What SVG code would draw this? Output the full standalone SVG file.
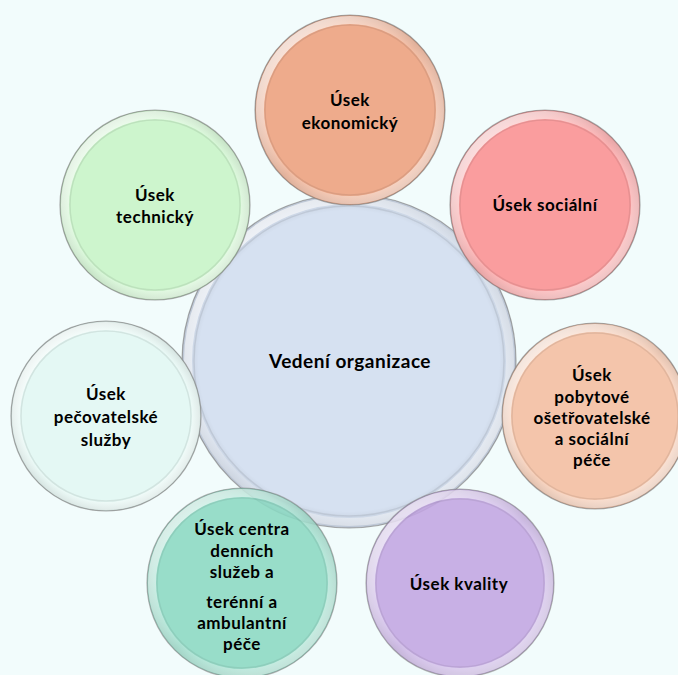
<svg xmlns="http://www.w3.org/2000/svg" width="678" height="675" viewBox="0 0 678 675">
<defs>
<linearGradient id="rim" x1="0" y1="0" x2="1" y2="1">
<stop offset="0" stop-color="#ffffff" stop-opacity="0.85"/>
<stop offset="0.5" stop-color="#ffffff" stop-opacity="0.22"/>
<stop offset="1" stop-color="#ffffff" stop-opacity="0.6"/>
</linearGradient>
<radialGradient id="shade" cx="0.5" cy="0.5" r="0.5">
<stop offset="0.9" stop-color="#000" stop-opacity="0"/>
<stop offset="1" stop-color="#000" stop-opacity="0.12"/>
</radialGradient>
<style>
.edge{stroke:#8a8a8a;stroke-opacity:0.7;stroke-width:1.2}
.rim{fill:none;stroke:url(#rim);stroke-width:8}
.bev{fill:none;stroke:#000;stroke-opacity:0.08;stroke-width:1.5}
.sh{fill:url(#shade)}
text{font-family:Lato,"Open Sans","DejaVu Sans",sans-serif;font-weight:bold;font-size:17px;letter-spacing:0.5px;fill:#000;text-anchor:middle;dominant-baseline:central}
.big{font-size:19px}
</style>
</defs>
<rect width="678" height="675" fill="#f2fcfc"/>
<g id="connectors"/>
<g id="center">
<circle cx="349" cy="361" r="167" fill="#d6e1f1" class="edge"/>
<circle cx="349" cy="361" r="167" class="sh"/>
<circle cx="349" cy="361" r="161" class="rim" stroke-width="10"/>
<circle cx="349" cy="361" r="155" class="bev"/>
<text x="350" y="360" class="big">Vedení organizace</text>
</g>
<g id="ekonomicky">
<circle cx="350" cy="110" r="95" fill="#eeab8c" class="edge"/>
<circle cx="350" cy="110" r="95" class="sh"/>
<circle cx="350" cy="110" r="90" class="rim"/>
<circle cx="350" cy="110" r="85" class="bev"/>
<text x="350" y="99">Úsek</text>
<text x="350" y="122">ekonomický</text>
</g>
<g id="socialni">
<circle cx="545" cy="205" r="95" fill="#fa9d9e" class="edge"/>
<circle cx="545" cy="205" r="95" class="sh"/>
<circle cx="545" cy="205" r="90" class="rim"/>
<circle cx="545" cy="205" r="85" class="bev"/>
<text x="545" y="204">Úsek sociální</text>
</g>
<g id="technicky">
<circle cx="155" cy="205" r="95" fill="#cdf5cd" class="edge"/>
<circle cx="155" cy="205" r="95" class="sh"/>
<circle cx="155" cy="205" r="90" class="rim"/>
<circle cx="155" cy="205" r="85" class="bev"/>
<text x="155" y="194">Úsek</text>
<text x="155" y="216">technický</text>
</g>
<g id="pecovatelske">
<circle cx="106" cy="416" r="95" fill="#e4f8f4" class="edge"/>
<circle cx="106" cy="416" r="95" class="sh"/>
<circle cx="106" cy="416" r="90" class="rim"/>
<circle cx="106" cy="416" r="85" class="bev"/>
<text x="106" y="393">Úsek</text>
<text x="106" y="416">pečovatelské</text>
<text x="106" y="439">služby</text>
</g>
<g id="pobytove">
<circle cx="595" cy="416" r="93" fill="#f4c5ab" class="edge"/>
<circle cx="595" cy="416" r="93" class="sh"/>
<circle cx="595" cy="416" r="88" class="rim"/>
<circle cx="595" cy="416" r="83" class="bev"/>
<text x="592" y="374">Úsek</text>
<text x="592" y="396">pobytové</text>
<text x="592" y="417">ošetřovatelské</text>
<text x="592" y="438">a sociální</text>
<text x="592" y="459">péče</text>
</g>
<g id="centra">
<g opacity="0.88">
<circle cx="242" cy="583" r="95" fill="#8cd9c3" class="edge"/>
<circle cx="242" cy="583" r="95" class="sh"/>
<circle cx="242" cy="583" r="90" class="rim"/>
<circle cx="242" cy="583" r="85" class="bev"/>
</g>
<text x="242" y="528">Úsek centra</text>
<text x="242" y="550">denních</text>
<text x="242" y="571">služeb a</text>
<text x="242" y="601">terénní a</text>
<text x="242" y="622">ambulantní</text>
<text x="242" y="643">péče</text>
</g>
<g id="kvality">
<g opacity="0.88">
<circle cx="460" cy="583" r="94" fill="#c3a6e2" class="edge"/>
<circle cx="460" cy="583" r="94" class="sh"/>
<circle cx="460" cy="583" r="89" class="rim"/>
<circle cx="460" cy="583" r="84" class="bev"/>
</g>
<text x="459" y="583">Úsek kvality</text>
</g>
</svg>
